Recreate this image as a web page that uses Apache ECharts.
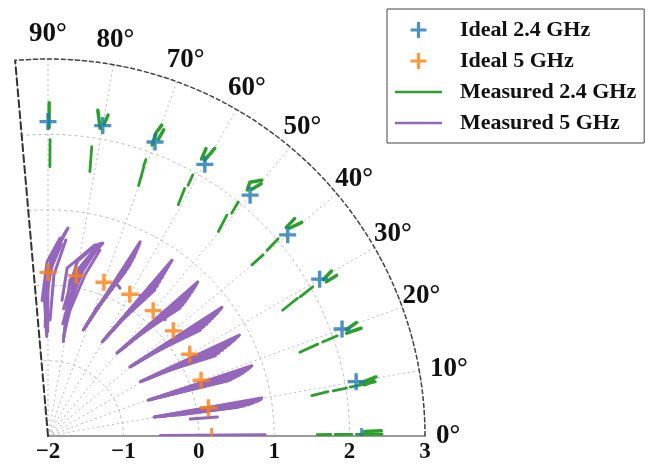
<!DOCTYPE html>
<html><head><meta charset="utf-8">
<script src="https://cdn.jsdelivr.net/npm/echarts@6/dist/echarts.min.js"></script>
<style>html,body{margin:0;padding:0;background:#fff}#c{width:651px;height:465px}</style>
</head><body><div id="c"></div>
<script>
// ---- data ----
const idealAngles = [0, 10, 20, 30, 40, 50, 60, 70, 80, 90];
const ideal24R = [2.16, 2.15, 2.15, 2.16, 2.15, 2.17, 2.16, 2.15, 2.18, 2.17];
const ideal5R  = [0.17, 0.16, 0.16, 0.17, 0.17, 0.17, 0.17, 0.17, 0.16, 0.17];
const angleMax = 95;
const radiusMin = -2, radiusMax = 3;
const legendNames = ['Ideal 2.4 GHz', 'Ideal 5 GHz', 'Measured 2.4 GHz', 'Measured 5 GHz'];

// measured 2.4 GHz strokes: [radius, angle]
const measured24 = [
  [[1.57,0.3],[1.75,0.3]], [[1.81,0.3],[2.03,0.3]], [[2.09,0.3],[2.43,0.3]],
  [[1.54,8.7],[1.76,9.0]], [[1.83,9.0],[2.01,9.1]], [[2.06,9.2],[2.40,9.4]],
  [[1.52,18.4],[1.78,18.8]], [[1.85,18.9],[2.06,19.1]],
  [[1.53,28.2],[1.78,28.9]], [[1.82,28.9],[2.03,29.4]],
  [[1.53,40.0],[1.73,40.1]], [[1.81,40.3],[2.02,40.6]],
  [[1.53,50.2],[1.77,51.0]], [[1.83,50.5],[2.00,50.9]],
  [[1.52,60.6],[1.75,61.1]], [[1.81,60.8],[1.96,61.0]],
  [[1.53,70.1],[1.78,70.4]], [[1.80,70.5],[1.89,70.5]],
  [[1.55,81.0],[1.88,81.4]],
  [[1.57,89.6],[1.93,89.6]]
];
const measured24Blobs = [
  [[2.20,0.8],[2.42,0.9]],
  [[2.20,9.6],[2.42,10.2]], [[2.25,9.2],[2.38,9.6]],
  [[2.19,19.0],[2.39,19.0]], [[2.20,19.6],[2.36,20.2]],
  [[2.22,29.0],[2.38,29.1]], [[2.20,29.6],[2.35,30.2]],
  [[2.23,40.7],[2.40,40.1]], [[2.20,41.2],[2.36,41.4]],
  [[2.20,51.0],[2.30,51.5],[2.42,50.1]], [[2.25,50.4],[2.38,49.8]],
  [[2.21,60.4],[2.41,59.9]], [[2.20,61.0],[2.35,61.2]],
  [[2.10,70.3],[2.27,70.4],[2.39,69.9]], [[2.20,69.6],[2.34,69.3]],
  [[2.14,80.4],[2.37,81.3]], [[2.20,79.8],[2.33,79.4]],
  [[2.09,89.8],[2.42,89.8]]
];
// measured 5 GHz strokes: [radius, angle]
const measured5 = [
  [[-0.51,0.3],[0.88,0.3]],
  [[-0.57,10.2],[0.88,10.1]], [[-0.54,10.0],[0.86,9.7]], [[-0.48,9.8],[0.80,9.3]], [[-0.40,9.6],[0.70,8.9]], [[-0.25,9.2],[0.55,8.6]], [[-0.10,6.8],[0.26,6.4]],
  [[-0.56,10.1],[0.87,9.9]], [[-0.51,9.9],[0.83,9.5]], [[-0.44,9.7],[0.75,9.1]], [[-0.33,9.4],[0.63,8.7]],
  [[-0.59,19.7],[0.86,19.0]], [[-0.56,19.5],[0.82,18.6]], [[-0.50,19.3],[0.75,18.1]], [[-0.42,19.0],[0.67,17.6]], [[-0.32,18.7],[0.58,17.3]], [[-0.20,18.4],[0.50,17.0]],
  [[-0.58,19.6],[0.84,18.8]], [[-0.53,19.4],[0.79,18.35]], [[-0.46,19.15],[0.71,17.85]], [[-0.37,18.85],[0.62,17.45]], [[-0.26,18.55],[0.54,17.15]],
  [[-0.58,30.5],[0.87,27.8]], [[-0.55,30.2],[0.82,27.5]], [[-0.50,29.9],[0.76,27.1]], [[-0.43,29.6],[0.68,26.7]], [[-0.34,29.2],[0.58,26.2]], [[-0.22,28.8],[0.46,25.6]],
  [[-0.57,30.35],[0.85,27.65]], [[-0.53,30.05],[0.79,27.3]], [[-0.47,29.75],[0.72,26.9]], [[-0.39,29.4],[0.63,26.45]], [[-0.28,29.0],[0.52,25.9]],
  [[-0.58,40.2],[0.87,36.5]], [[-0.55,39.9],[0.82,36.2]], [[-0.50,39.6],[0.76,35.9]], [[-0.43,39.2],[0.68,35.6]], [[-0.34,38.8],[0.58,35.2]], [[-0.22,38.3],[0.46,34.8]],
  [[-0.57,40.05],[0.85,36.35]], [[-0.53,39.75],[0.79,36.05]], [[-0.47,39.4],[0.72,35.75]], [[-0.39,39.0],[0.63,35.4]], [[-0.28,38.55],[0.52,35.0]],
  [[-0.57,50.3],[0.85,45.8]], [[-0.54,50.0],[0.80,45.5]], [[-0.49,49.6],[0.74,45.2]], [[-0.42,49.2],[0.65,44.8]], [[-0.33,48.7],[0.55,44.4]], [[-0.22,48.2],[0.44,44.1]], [[0.22,47.2],[0.19,44.8]],
  [[-0.56,50.15],[0.83,45.65]], [[-0.52,49.8],[0.77,45.35]], [[-0.46,49.4],[0.70,45.0]], [[-0.38,48.95],[0.60,44.6]], [[-0.28,48.45],[0.50,44.25]],
  [[-0.56,60.1],[0.855,54.8]], [[-0.53,59.8],[0.80,54.7]], [[-0.48,59.4],[0.74,54.6]], [[-0.41,58.9],[0.66,54.4]], [[-0.32,58.4],[0.53,54.1]], [[-0.22,57.8],[0.40,53.8]], [[0.23,56.9],[0.20,55.0]],
  [[-0.55,59.95],[0.83,54.75]], [[-0.51,59.6],[0.77,54.65]], [[-0.45,59.15],[0.70,54.5]], [[-0.37,58.65],[0.60,54.25]], [[-0.27,58.1],[0.47,53.95]],
  [[-0.52,71.6],[0.85,64.6]], [[-0.49,71.3],[0.80,64.5]], [[-0.44,70.9],[0.73,64.4]], [[-0.37,70.4],[0.64,64.3]], [[-0.28,69.8],[0.52,64.4]], [[-0.18,69.2],[0.40,64.8]], [[0.23,66.5],[0.18,64.0]],
  [[-0.51,71.45],[0.83,64.55]], [[-0.47,71.1],[0.77,64.45]], [[-0.41,70.65],[0.69,64.35]], [[-0.33,70.1],[0.58,64.35]], [[-0.23,69.5],[0.46,64.6]],
  [[-0.73,80.8],[0.09,82.0],[0.66,74.1]], [[-0.44,81.2],[0.19,77.1],[0.56,74.4]], [[-0.19,84.1],[0.24,83.5],[0.61,76.2]],
  [[-0.60,81.0],[0.30,79.0],[0.64,75.0]], [[-0.50,82.5],[0.10,80.0],[0.50,76.5]], [[-0.30,83.0],[0.35,80.5],[0.62,75.6]],
  [[-0.66,81.0],[0.20,80.5],[0.65,74.6]], [[-0.38,82.0],[0.25,78.0],[0.58,75.2]],
  [[-0.68,90.75],[-0.06,91.6],[0.40,88.7],[0.77,84.5]], [[-0.20,92.5],[0.31,90.3],[0.63,86.5]], [[-0.46,89.0],[0.14,87.9],[0.61,84.8]],
  [[-0.55,91.5],[0.05,90.5],[0.50,87.0],[0.72,85.0]], [[-0.30,91.0],[0.20,89.2],[0.55,86.0]],
  [[-0.62,90.2],[0.00,90.0],[0.45,87.8],[0.74,84.8]]
];

// ---- styles ----
const BLUE = '#1f77b4', ORANGE = '#ff7f0e', GREEN = '#2ca02c', PURPLE = '#9467bd';
const FONT = 'Liberation Serif';
const PLUS = 'path://M-1.6,-8H1.6V-1.6H8V1.6H1.6V8H-1.6V1.6H-8V-1.6H-1.6Z';
const BAR = 'path://M0,0H47V2.5H0Z';
const labelFont = { fontFamily: FONT, fontWeight: 'bold', fontSize: 27, color: '#111' };

function lineSeries(name, strokes, color, width) {
  return strokes.map(s => ({
    type: 'line', name, coordinateSystem: 'polar', polarIndex: 0,
    data: s, symbol: 'none', showSymbol: false, silent: true,
    lineStyle: { color, width, cap: 'round' }, itemStyle: { color }, z: 2
  }));
}
function crossSeries(name, radii, color) {
  return {
    type: 'scatter', name, coordinateSystem: 'polar', polarIndex: 0,
    symbol: PLUS, symbolSize: 17, symbolKeepAspect: true,
    itemStyle: { color }, z: 5, silent: true,
    data: radii.map((r, i) => idealAngles[i] === 0
      ? { value: [r, idealAngles[i]], symbol: 'rect', symbolSize: [3, 8], symbolOffset: [0, -4] }
      : { value: [r, idealAngles[i]] })
  };
}

const series = [
  crossSeries(legendNames[0], ideal24R, BLUE),
  crossSeries(legendNames[1], ideal5R, ORANGE),
  ...lineSeries(legendNames[2], measured24, GREEN, 2.8),
  ...lineSeries(legendNames[2], measured24Blobs, GREEN, 3.5),
  ...lineSeries(legendNames[3], measured5, PURPLE, 3)
];

const chart = echarts.init(document.getElementById('c'), null, { renderer: 'canvas' });
chart.setOption({
  animation: false,
  backgroundColor: '#fff',
  legend: {
    orient: 'vertical', left: 387, top: 9,
    data: [
      { name: legendNames[0], icon: PLUS },
      { name: legendNames[1], icon: PLUS },
      { name: legendNames[2], icon: BAR },
      { name: legendNames[3], icon: BAR }
    ],
    itemWidth: 47, itemHeight: 16, itemGap: 9,
    padding: [10, 8, 9, 8],
    backgroundColor: '#fff', borderColor: '#444', borderWidth: 1,
    textStyle: { fontFamily: FONT, fontWeight: 'bold', fontSize: 22, color: '#111', padding: [0, 0, 0, 13] }
  },
  polar: [
    { center: [48, 436], radius: 377 },
    { center: [48, 436], radius: 377 }
  ],
  angleAxis: [
    {
      polarIndex: 0, type: 'value', min: 0, max: angleMax, interval: 10,
      startAngle: 0, endAngle: angleMax, clockwise: false,
      axisLine: { show: true, lineStyle: { color: '#444', width: 1.5, type: [5, 2] } },
      axisTick: { show: false },
      axisLabel: Object.assign({
        margin: 11,
        formatter: v => {
          if (v % 10 !== 0) return '';
          const t = v + '°';
          if (v >= 20 && v <= 40) return '{a|' + t + '}';
          if (v >= 50 && v <= 70) return '{b|' + t + '}';
          return t;
        },
        rich: {
          a: Object.assign({ padding: [0, 0, -6, -10] }, labelFont),
          b: Object.assign({ padding: [0, 0, -2, -14] }, labelFont)
        }
      }, labelFont),
      splitLine: { show: true, lineStyle: { color: '#bdbdbd', width: 1, type: [2, 3] } }
    },
    {
      polarIndex: 1, type: 'value', min: 0, max: angleMax,
      startAngle: angleMax, endAngle: 0, clockwise: true,
      axisLine: { show: false }, axisTick: { show: false }, axisLabel: { show: false }, splitLine: { show: false }
    }
  ],
  radiusAxis: [
    {
      polarIndex: 0, type: 'value', min: radiusMin, max: radiusMax, interval: 1,
      axisLine: { show: true, lineStyle: { color: '#9a9a9a', width: 2 } },
      axisTick: { show: false },
      axisLabel: {
        margin: -5, verticalAlign: 'top', align: 'center',
        fontFamily: FONT, fontWeight: 'bold', fontSize: 23, color: '#111',
        formatter: v => String(v).replace('-', '\u2212')
      },
      splitLine: { show: true, lineStyle: { color: '#bdbdbd', width: 1, type: [3, 3] } }
    },
    {
      polarIndex: 1, type: 'value', min: radiusMin, max: radiusMax,
      axisLine: { show: true, lineStyle: { color: '#333', width: 2, type: [7, 4] } },
      axisTick: { show: false }, axisLabel: { show: false }, splitLine: { show: false }
    }
  ],
  series
});
</script></body></html>
